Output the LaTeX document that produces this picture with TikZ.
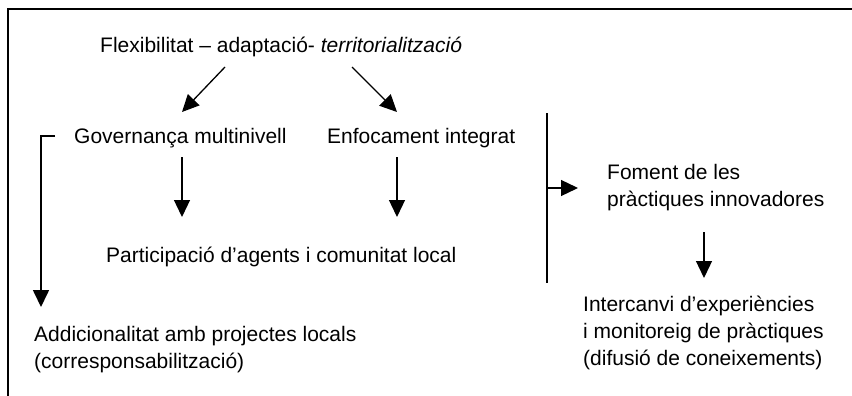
\documentclass[tikz,border=0pt]{standalone}
\usepackage{fontspec}
\setmainfont{Liberation Sans}
\usetikzlibrary{arrows.meta,positioning}

\tikzset{
  txt/.style={anchor=base west, inner sep=0pt, align=left, font=\fontsize{21}{27}\selectfont},
  arr/.style={-{Triangle[length=17pt,width=16pt]}, line width=1.3pt},
  bar/.style={line width=1.7pt},
}

\begin{document}
\begin{tikzpicture}[x=1pt, y=-1pt]
\useasboundingbox (0,0) rectangle (852,396);

% frame
\draw[line width=1.4pt] (8,396) -- (8,9) -- (852,9);

\node[txt] (flex) at (100,53) {Flexibilitat – adaptació- \textit{territorialització}};
\node[txt] (gov) at (74,143) {Governança multinivell};
\node[txt] (enf) at (327,143) {Enfocament integrat};
\node[txt] (part) at (106,262) {Participació d’agents i comunitat local};
% base of a block sits on its last line
\node[txt] (add) at (34,368) {Addicionalitat amb projectes locals\\(corresponsabilització)};
\node[txt] (fom) at (607,206) {Foment de les\\pràctiques innovadores};
\node[txt] (int) at (583,365) {Intercanvi d’experiències\\i monitoreig de pràctiques\\(difusió de coneixements)};

% arrow ends
\coordinate (t1) at (225,67);
\coordinate (t2) at (352,67);
\coordinate (g1) at (182,112);
\coordinate (e1) at (397,112);
\coordinate (g2) at (182,157);
\coordinate (e2) at (397,157);
\coordinate (p1) at (182,217);
\coordinate (p2) at (397,217);
\coordinate (b0) at (55,136);
\coordinate (b1) at (41,136);
\coordinate (a1) at (41,307);
\coordinate (v0) at (547,113);
\coordinate (v1) at (547,283);
\coordinate (v2) at (547,188);
\coordinate (f0) at (578,188);
\coordinate (f1) at (704,232);
\coordinate (i1) at (704,278);

\draw[arr] (t1) -- (g1);
\draw[arr] (t2) -- (e1);
\draw[arr] (g2) -- (p1);
\draw[arr] (e2) -- (p2);
\draw[arr, line width=1.7pt] (b0) -- (b1) -- (a1);
\draw[bar] (v0) -- (v1);
\draw[arr] (v2) -- (f0);
\draw[arr] (f1) -- (i1);

\end{tikzpicture}
\end{document}
